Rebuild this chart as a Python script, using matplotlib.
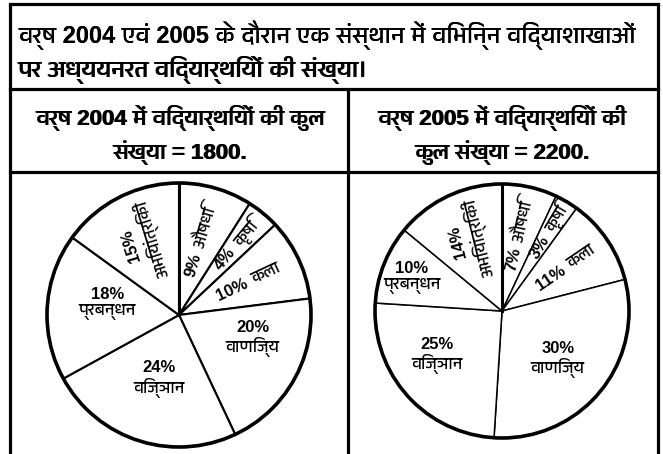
import numpy as np
import matplotlib
matplotlib.use("Agg")
import matplotlib.pyplot as plt
from matplotlib import font_manager
from matplotlib.patches import Circle
import matplotlib.transforms as mtransforms

# ---------------- data ----------------
categories = ["औषधि", "कृषि", "कला", "वाणिज्य", "विज्ञान", "प्रबन्धन", "अभियांत्रिकी"]
share_2004 = [9, 4, 10, 20, 24, 18, 15]
share_2005 = [7, 3, 11, 30, 25, 10, 14]
years = [2004, 2005]
totals = [1800, 2200]
title_lines = ["वर्ष 2004 एवं 2005 के दौरान एक संस्थान में विभिन्न विद्याशाखाओं",
               "पर अध्ययनरत विद्यार्थियों की संख्या।"]
header_2004 = ["वर्ष 2004 में विद्यार्थियों की कुल", "संख्या = 1800."]
header_2005 = ["वर्ष 2005 में विद्यार्थियों की", "कुल संख्या = 2200."]


# ---------------- fonts ----------------
def devanagari_families():
    try:
        from matplotlib.ft2font import FT2Font
    except Exception:
        return []
    names = []
    for fe in font_manager.fontManager.ttflist:
        try:
            cmap = FT2Font(fe.fname).get_charmap()
        except Exception:
            continue
        if 0x0935 in cmap and 0x094D in cmap and fe.name not in names:
            names.append(fe.name)
    names.sort(key=lambda n: (0 if "Devanagari" in n else 1, n))
    return names

deva = devanagari_families()
WORD_FAM = deva + ["DejaVu Sans"]
MIX_FAM = ["Liberation Sans Narrow", "Liberation Sans"] + deva + ["DejaVu Sans"]
PCT_FAM = ["Liberation Sans", "DejaVu Sans"]

W, H = 663, 454
fig = plt.figure(figsize=(W / 100, H / 100), dpi=100)
fig.patch.set_facecolor("white")

bg = fig.add_axes([0, 0, 1, 1])
bg.set_xlim(0, W)
bg.set_ylim(H, 0)
bg.axis("off")


def heavy_text(x, y, s, size, **kw):
    """Draw text twice with a tiny horizontal shift to thicken the strokes."""
    for dx in (0.0, 0.55):
        tr = mtransforms.offset_copy(bg.transData, fig=fig, x=dx, y=0, units="points")
        bg.text(x, y, s, fontsize=size, fontweight="bold", family=MIX_FAM,
                transform=tr, **kw)


# ---------------- table frame ----------------
LW = 2.3
x_left, x_right, x_mid = 10, 658, 348
y_top, y_sep1, y_sep2 = 3.5, 89, 172
bg.plot([x_left, x_left], [y_top, H], color="black", lw=LW, solid_capstyle="butt")
bg.plot([x_right, x_right], [y_top, H], color="black", lw=LW, solid_capstyle="butt")
bg.plot([x_left, x_right], [y_top, y_top], color="black", lw=LW, solid_capstyle="projecting")
bg.plot([x_left, x_right], [y_sep1, y_sep1], color="black", lw=LW)
bg.plot([x_left, x_right], [y_sep2, y_sep2], color="black", lw=LW)
bg.plot([x_mid, x_mid], [y_sep1, H], color="black", lw=LW, solid_capstyle="butt")

# ---------------- titles ----------------
heavy_text(18, 35, title_lines[0], 17, ha="left", va="center")
heavy_text(18, 70, title_lines[1], 17, ha="left", va="center")
for cx, lines in [(180, header_2004), (502, header_2005)]:
    heavy_text(cx, 118, lines[0], 16, ha="center", va="center")
    heavy_text(cx, 153, lines[1], 16, ha="center", va="center")

# ---------------- pies ----------------
pie_geom = {2004: (179, 315, 132, 1.5), 2005: (502, 311, 127, 1.1)}
# style: radial split for one-line rotated labels (first three categories)
rot_split = {2004: [0.50, 0.66, 0.59], 2005: [0.53, 0.70, 0.61]}
# style: horizontal two-line labels (r, angle tweak) for वाणिज्य, विज्ञान, प्रबन्धन
flat_pos = {2004: [(0.58, 13), (0.49, 0), (0.55, -6)],
            2005: [(0.57, 0), (0.61, -8.5), (0.76, 1)]}
eng_pos = {2004: (0.62, 0, 107), 2005: (0.62, 0, 104)}

for year, shares in zip(years, [share_2004, share_2005]):
    cx, cy, r, wlw = pie_geom[year]
    ax = fig.add_axes([(cx - r * 1.02) / W, (H - cy - r * 1.02) / H,
                       2 * r * 1.02 / W, 2 * r * 1.02 / H])
    ax.axis("off")
    wedges, _ = ax.pie(shares, startangle=90, counterclock=False, radius=1,
                       colors=["white"] * len(shares),
                       wedgeprops=dict(edgecolor="black", linewidth=wlw))
    ax.set_xlim(-1.02, 1.02)
    ax.set_ylim(-1.02, 1.02)
    ax.add_patch(Circle((0, 0), 1, fill=False, edgecolor="black", lw=2.6, zorder=5))
    ax.plot([0, 0], [0, 1], color="black", lw=2.2, zorder=5)

    mids = [np.deg2rad((w.theta1 + w.theta2) / 2) for w in wedges]
    pct_kw = dict(fontsize=12, fontweight="bold", family=PCT_FAM)
    word_kw = dict(fontsize=12, family=WORD_FAM)

    # one-line rotated labels
    for i in range(3):
        th = mids[i]
        deg = np.rad2deg(th)
        s = rot_split[year][i]
        ax.text((s - 0.02) * np.cos(th), (s - 0.02) * np.sin(th), f"{shares[i]}%",
                rotation=deg, rotation_mode="anchor", ha="right", va="center", **pct_kw)
        ax.text((s + 0.03) * np.cos(th), (s + 0.03) * np.sin(th), categories[i],
                rotation=deg, rotation_mode="anchor", ha="left", va="center", **word_kw)

    # horizontal two-line labels
    for k, i in enumerate([3, 4, 5]):
        rr, tweak = flat_pos[year][k]
        th = mids[i] + np.deg2rad(tweak)
        x, y = rr * np.cos(th), rr * np.sin(th)
        ax.text(x, y + 0.01, f"{shares[i]}%", ha="center", va="bottom", **pct_kw)
        ax.text(x, y - 0.01, categories[i], ha="center", va="top", **word_kw)

    # two-line rotated label (अभियांत्रिकी)
    rr, tweak, rot = eng_pos[year]
    th = mids[6] + np.deg2rad(tweak)
    x, y = rr * np.cos(th), rr * np.sin(th)
    perp = np.deg2rad(rot + 90)
    d = 0.085
    ax.text(x + d * np.cos(perp), y + d * np.sin(perp), f"{shares[6]}%",
            rotation=rot, rotation_mode="anchor", ha="center", va="center", **pct_kw)
    ax.text(x - d * np.cos(perp), y - d * np.sin(perp), categories[6],
            rotation=rot, rotation_mode="anchor", ha="center", va="center", **word_kw)

fig.savefig("out.png", dpi=100, facecolor="white")
